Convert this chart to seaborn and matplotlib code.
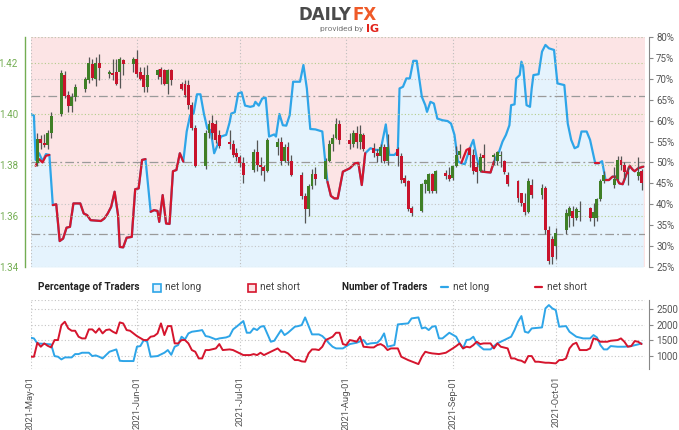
import pandas as pd
import numpy as np
import matplotlib
matplotlib.use("Agg")
import matplotlib.pyplot as plt
import matplotlib.dates as mdates
import matplotlib.ticker as mticker
from matplotlib.patches import Rectangle
from matplotlib.lines import Line2D
import seaborn as sns

sns.set_style("white")
plt.rcParams["font.family"] = ["Roboto", "DejaVu Sans"]

# ---------------- price candles (weekdays 2021-05-03 .. 2021-10-26) ----------------
candle_dates = pd.bdate_range("2021-05-03", "2021-10-26")
candle_open = [
    1.3808, 1.3900, 1.3886, 1.3878, 1.3925, 1.4000, 1.4150, 1.4072, 1.4030, 1.4065, 1.4098,
    1.4130, 1.4196, 1.4137, 1.4200, 1.4157, 1.4160, 1.4163, 1.4163, 1.4209, 1.4196,
    1.4215, 1.4163, 1.4150, 1.4104, 1.4150, 1.4176, 1.4170, 1.4117, 1.4170, 1.4117, 1.4117,
    1.4111, 1.4033, 1.3942, 1.3795, 1.3925, 1.3965, 1.3960, 1.3915, 1.3890, 1.3880, 1.3845,
    1.3830, 1.3805, 1.3780, 1.3850, 1.3800, 1.3790, 1.3775, 1.3870, 1.3890, 1.3815, 1.3870,
    1.3815, 1.3760, 1.3676, 1.3625, 1.3715, 1.3765, 1.3745, 1.3815, 1.3880, 1.3905, 1.3960,
    1.3895, 1.3880, 1.3925, 1.3890, 1.3918, 1.3865, 1.3845, 1.3835, 1.3870, 1.3815, 1.3860,
    1.3835, 1.3750, 1.3735, 1.3630, 1.3620, 1.3725, 1.3697, 1.3762, 1.3697, 1.3768, 1.3760,
    1.3750, 1.3795, 1.3840, 1.3860, 1.3840, 1.3790, 1.3775, 1.3840, 1.3830, 1.3815, 1.3835,
    1.3815, 1.3760, 1.3735, 1.3690, 1.3650, 1.3615, 1.3720, 1.3680, 1.3710, 1.3545, 1.3510,
    1.3482, 1.3545, 1.3600, 1.3620, 1.3590, 1.3615, 1.3630, 1.3590, 1.3590, 1.3665, 1.3735,
    1.3720, 1.3745, 1.3820, 1.3800, 1.3770, 1.3755, 1.3775,
]
candle_high = [
    1.3925, 1.3915, 1.3920, 1.3935, 1.4005, 1.4170, 1.4166, 1.4090, 1.4080, 1.4115, 1.4145,
    1.4222, 1.4215, 1.4222, 1.4235, 1.4170, 1.4215, 1.4215, 1.4222, 1.4215, 1.4222,
    1.4248, 1.4183, 1.4183, 1.4189, 1.4176, 1.4183, 1.4176, 1.4176, 1.4176, 1.4124, 1.4130,
    1.4130, 1.4046, 1.3955, 1.3935, 1.3975, 1.3995, 1.3975, 1.3935, 1.3935, 1.3895, 1.3865,
    1.3840, 1.3830, 1.3860, 1.3895, 1.3830, 1.3800, 1.3905, 1.3905, 1.3910, 1.3880, 1.3890,
    1.3840, 1.3770, 1.3690, 1.3725, 1.3785, 1.3790, 1.3825, 1.3895, 1.3920, 1.3983, 1.3975,
    1.3925, 1.3935, 1.3951, 1.3955, 1.3925, 1.3885, 1.3860, 1.3880, 1.3880, 1.3920, 1.3870,
    1.3845, 1.3760, 1.3740, 1.3640, 1.3730, 1.3745, 1.3768, 1.3768, 1.3780, 1.3780, 1.3790,
    1.3800, 1.3875, 1.3880, 1.3865, 1.3860, 1.3810, 1.3845, 1.3880, 1.3845, 1.3855, 1.3855,
    1.3820, 1.3770, 1.3740, 1.3690, 1.3690, 1.3750, 1.3745, 1.3725, 1.3718, 1.3560, 1.3520,
    1.3553, 1.3625, 1.3640, 1.3640, 1.3635, 1.3660, 1.3635, 1.3650, 1.3670, 1.3745, 1.3775,
    1.3790, 1.3835, 1.3835, 1.3810, 1.3790, 1.3830, 1.3785,
]
candle_low = [
    1.3795, 1.3860, 1.3868, 1.3860, 1.3905, 1.3990, 1.4060, 1.4005, 1.4005, 1.4050, 1.4085,
    1.4120, 1.4130, 1.4110, 1.4130, 1.4140, 1.4130, 1.4111, 1.4100, 1.4150, 1.4163,
    1.4143, 1.4130, 1.4085, 1.4085, 1.4137, 1.4117, 1.4111, 1.4078, 1.4111, 1.4091, 1.4065,
    1.4020, 1.3936, 1.3792, 1.3782, 1.3905, 1.3900, 1.3885, 1.3865, 1.3860, 1.3830, 1.3815,
    1.3790, 1.3729, 1.3770, 1.3775, 1.3760, 1.3735, 1.3770, 1.3840, 1.3800, 1.3810, 1.3800,
    1.3755, 1.3665, 1.3573, 1.3600, 1.3705, 1.3720, 1.3740, 1.3810, 1.3855, 1.3900, 1.3880,
    1.3860, 1.3870, 1.3865, 1.3860, 1.3855, 1.3830, 1.3810, 1.3810, 1.3805, 1.3800, 1.3795,
    1.3730, 1.3715, 1.3620, 1.3600, 1.3615, 1.3690, 1.3690, 1.3690, 1.3690, 1.3745, 1.3735,
    1.3740, 1.3790, 1.3825, 1.3790, 1.3765, 1.3730, 1.3770, 1.3775, 1.3800, 1.3800, 1.3790,
    1.3765, 1.3715, 1.3655, 1.3640, 1.3605, 1.3610, 1.3670, 1.3665, 1.3530, 1.3410, 1.3412,
    1.3430, 1.3530, 1.3555, 1.3560, 1.3585, 1.3580, 1.3580, 1.3560, 1.3580, 1.3660, 1.3730,
    1.3710, 1.3740, 1.3780, 1.3745, 1.3720, 1.3740, 1.3703,
]
candle_close = [
    1.3900, 1.3886, 1.3878, 1.3925, 1.3990, 1.4160, 1.4068, 1.4030, 1.4065, 1.4105, 1.4135,
    1.4200, 1.4140, 1.4200, 1.4180, 1.4163, 1.4150, 1.4117, 1.4215, 1.4196, 1.4215,
    1.4157, 1.4137, 1.4104, 1.4150, 1.4170, 1.4143, 1.4117, 1.4170, 1.4130, 1.4098, 1.4072,
    1.4033, 1.3942, 1.3795, 1.3925, 1.3960, 1.3925, 1.3895, 1.3875, 1.3880, 1.3840, 1.3830,
    1.3805, 1.3760, 1.3850, 1.3800, 1.3790, 1.3775, 1.3895, 1.3890, 1.3815, 1.3870, 1.3815,
    1.3760, 1.3676, 1.3625, 1.3715, 1.3765, 1.3745, 1.3815, 1.3880, 1.3905, 1.3960, 1.3895,
    1.3880, 1.3925, 1.3890, 1.3920, 1.3860, 1.3845, 1.3835, 1.3870, 1.3815, 1.3870, 1.3835,
    1.3740, 1.3730, 1.3625, 1.3610, 1.3725, 1.3740, 1.3762, 1.3697, 1.3775, 1.3755, 1.3745,
    1.3795, 1.3840, 1.3855, 1.3840, 1.3775, 1.3770, 1.3830, 1.3828, 1.3838, 1.3850, 1.3840,
    1.3770, 1.3725, 1.3670, 1.3650, 1.3615, 1.3735, 1.3680, 1.3710, 1.3545, 1.3425, 1.3440,
    1.3534, 1.3610, 1.3630, 1.3590, 1.3625, 1.3620, 1.3590, 1.3615, 1.3665, 1.3735, 1.3760,
    1.3745, 1.3820, 1.3800, 1.3770, 1.3762, 1.3770, 1.3729,
]

# ---------------- percentage of traders (right axis) ----------------
long_pct_time = [
    "2021-05-01 00:00", "2021-05-02 00:00", "2021-05-02 12:00", "2021-05-03 12:00", "2021-05-04 12:00",
    "2021-05-05 12:00", "2021-05-06 12:00", "2021-05-07 12:00", "2021-05-08 12:00", "2021-05-09 12:00",
    "2021-05-10 12:00", "2021-05-11 12:00", "2021-05-12 12:00", "2021-05-13 12:00", "2021-05-15 12:00",
    "2021-05-16 12:00", "2021-05-17 12:00", "2021-05-18 12:00", "2021-05-21 12:00", "2021-05-22 12:00",
    "2021-05-23 12:00", "2021-05-24 12:00", "2021-05-25 12:00", "2021-05-26 12:00", "2021-05-27 00:00",
    "2021-05-28 00:00", "2021-05-29 00:00", "2021-05-30 12:00", "2021-05-31 12:00", "2021-06-01 12:00",
    "2021-06-02 12:00", "2021-06-03 12:00", "2021-06-05 00:00", "2021-06-06 00:00", "2021-06-07 00:00",
    "2021-06-07 12:00", "2021-06-08 12:00", "2021-06-09 12:00", "2021-06-10 12:00", "2021-06-11 12:00",
    "2021-06-12 12:00", "2021-06-13 12:00", "2021-06-14 12:00", "2021-06-15 12:00", "2021-06-16 12:00",
    "2021-06-17 12:00", "2021-06-18 12:00", "2021-06-19 12:00", "2021-06-20 12:00", "2021-06-21 12:00",
    "2021-06-22 12:00", "2021-06-23 12:00", "2021-06-24 12:00", "2021-06-25 12:00", "2021-06-27 00:00",
    "2021-06-28 00:00", "2021-06-28 12:00", "2021-06-29 12:00", "2021-06-30 12:00", "2021-07-01 12:00",
    "2021-07-02 12:00", "2021-07-04 00:00", "2021-07-05 00:00", "2021-07-05 12:00", "2021-07-06 12:00",
    "2021-07-07 12:00", "2021-07-08 12:00", "2021-07-09 12:00", "2021-07-11 00:00", "2021-07-11 12:00",
    "2021-07-12 12:00", "2021-07-13 12:00", "2021-07-14 12:00", "2021-07-15 12:00", "2021-07-16 12:00",
    "2021-07-18 12:00", "2021-07-19 12:00", "2021-07-20 12:00", "2021-07-21 12:00", "2021-07-23 00:00",
    "2021-07-25 00:00", "2021-07-26 00:00", "2021-07-26 12:00", "2021-07-27 12:00", "2021-07-28 12:00",
    "2021-07-29 12:00", "2021-07-31 00:00", "2021-08-01 00:00", "2021-08-02 00:00", "2021-08-03 12:00",
    "2021-08-04 12:00", "2021-08-05 12:00", "2021-08-06 12:00", "2021-08-08 00:00", "2021-08-09 12:00",
    "2021-08-11 00:00", "2021-08-12 12:00", "2021-08-13 12:00", "2021-08-15 00:00", "2021-08-16 00:00",
    "2021-08-16 12:00", "2021-08-17 12:00", "2021-08-18 12:00", "2021-08-19 12:00", "2021-08-20 12:00",
    "2021-08-21 12:00", "2021-08-23 00:00", "2021-08-24 00:00", "2021-08-24 12:00", "2021-08-25 12:00",
    "2021-08-26 12:00", "2021-08-27 12:00", "2021-08-29 00:00", "2021-08-30 12:00", "2021-08-31 12:00",
    "2021-09-01 12:00", "2021-09-02 12:00", "2021-09-03 12:00", "2021-09-04 12:00", "2021-09-06 00:00",
    "2021-09-07 00:00", "2021-09-08 00:00", "2021-09-09 00:00", "2021-09-09 12:00", "2021-09-12 00:00",
    "2021-09-13 00:00", "2021-09-14 12:00", "2021-09-15 12:00", "2021-09-16 12:00", "2021-09-17 12:00",
    "2021-09-18 00:00", "2021-09-19 00:00", "2021-09-19 12:00", "2021-09-20 12:00", "2021-09-21 00:00",
    "2021-09-21 12:00", "2021-09-22 12:00", "2021-09-23 12:00", "2021-09-24 00:00", "2021-09-24 12:00",
    "2021-09-26 00:00", "2021-09-27 00:00", "2021-09-28 00:00", "2021-09-29 00:00", "2021-09-30 12:00",
    "2021-10-01 12:00", "2021-10-03 12:00", "2021-10-04 12:00", "2021-10-05 12:00", "2021-10-06 12:00",
    "2021-10-07 12:00", "2021-10-08 12:00", "2021-10-10 00:00", "2021-10-11 00:00", "2021-10-12 12:00",
    "2021-10-13 12:00", "2021-10-14 12:00", "2021-10-15 12:00", "2021-10-16 12:00", "2021-10-17 12:00",
    "2021-10-18 12:00", "2021-10-19 12:00", "2021-10-20 12:00", "2021-10-21 12:00", "2021-10-22 12:00",
    "2021-10-23 12:00", "2021-10-24 00:00", "2021-10-25 00:00", "2021-10-26 12:00",
]
long_pct = [
    61.6, 61.2, 50.6, 52.2, 50.3, 52.0, 51.8, 39.8, 40.0, 31.2,
    31.8, 34.4, 34.6, 40.2, 40.2, 37.8, 37.4, 36.2, 36.0, 36.6,
    37.8, 39.4, 43.0, 37.4, 29.8, 29.7, 32.0, 32.2, 43.6, 43.8,
    50.6, 50.8, 38.2, 38.6, 38.4, 35.8, 42.2, 35.4, 35.3, 47.9,
    48.2, 52.2, 50.2, 57.4, 61.3, 61.7, 66.3, 66.3, 61.7, 58.1,
    57.7, 52.2, 54.2, 56.2, 56.6, 59.6, 61.7, 62.0, 66.5, 66.8,
    63.6, 63.3, 63.5, 64.5, 63.6, 65.3, 65.5, 56.2, 56.7, 56.2,
    61.6, 58.9, 58.8, 61.3, 69.3, 69.3, 73.3, 67.7, 58.0, 57.9,
    57.4, 49.0, 45.4, 42.0, 41.4, 41.4, 47.8, 48.2, 48.6, 49.8,
    49.9, 44.6, 52.2, 53.4, 53.0, 53.0, 59.1, 51.8, 51.8, 52.6,
    67.7, 68.1, 70.1, 70.1, 74.3, 74.3, 65.7, 63.7, 62.1, 64.5,
    64.1, 60.5, 60.1, 59.9, 59.3, 56.6, 50.3, 49.8, 49.6, 53.4,
    55.4, 51.0, 48.6, 47.8, 47.6, 50.2, 52.6, 55.0, 56.6, 58.9,
    63.7, 63.9, 70.1, 70.9, 74.1, 72.9, 63.7, 63.3, 67.7, 70.9,
    71.1, 76.5, 78.1, 77.3, 76.9, 68.9, 68.5, 59.3, 55.4, 53.4,
    53.8, 57.4, 57.4, 55.4, 49.8, 49.8, 50.3, 45.8, 45.8, 46.6,
    46.6, 45.0, 44.8, 47.0, 49.2, 48.2, 47.9, 48.6, 49.0,
]
# None marks a break in the net-short line
short_pct_time = [
    "2021-05-02 12:00", "2021-05-03 12:00", "2021-05-04 12:00", "2021-05-05 12:00", "2021-05-06 12:00", None,
    "2021-05-07 12:00", "2021-05-08 12:00", "2021-05-09 12:00", "2021-05-10 12:00", "2021-05-11 12:00",
    "2021-05-12 12:00", "2021-05-13 12:00", "2021-05-15 12:00", "2021-05-16 12:00", "2021-05-17 12:00",
    "2021-05-18 12:00", "2021-05-21 12:00", "2021-05-22 12:00", "2021-05-23 12:00", "2021-05-24 12:00",
    "2021-05-25 12:00", "2021-05-26 12:00", "2021-05-27 00:00", "2021-05-28 00:00", "2021-05-29 00:00",
    "2021-05-30 12:00", "2021-05-31 12:00", "2021-06-01 12:00", "2021-06-02 12:00", "2021-06-03 12:00", None,
    "2021-06-05 00:00", "2021-06-06 00:00", "2021-06-07 00:00", "2021-06-07 12:00", "2021-06-08 12:00",
    "2021-06-09 12:00", "2021-06-10 12:00", "2021-06-11 12:00", "2021-06-12 12:00", "2021-06-13 12:00",
    "2021-06-14 12:00", None,
    "2021-07-26 12:00", "2021-07-27 12:00", "2021-07-28 12:00", "2021-07-29 12:00", "2021-07-31 00:00",
    "2021-08-01 00:00", "2021-08-02 00:00", "2021-08-03 12:00", "2021-08-04 12:00", "2021-08-05 12:00",
    "2021-08-06 12:00", None,
    "2021-09-03 12:00", "2021-09-05 00:00", "2021-09-06 00:00", None,
    "2021-09-09 00:00", "2021-09-09 12:00", "2021-09-12 00:00", "2021-09-13 00:00", None,
    "2021-10-12 12:00", "2021-10-13 12:00", None,
    "2021-10-15 12:00", "2021-10-16 12:00", "2021-10-17 12:00", "2021-10-18 12:00", "2021-10-19 12:00",
    "2021-10-20 12:00", "2021-10-21 12:00", "2021-10-22 12:00", "2021-10-23 12:00", "2021-10-24 00:00",
    "2021-10-25 00:00", "2021-10-26 12:00",
]
short_pct = [
    49.2, 50.8, 50.0, 51.6, 51.8, None,
    39.8, 40.0, 31.2, 31.8, 34.4, 34.6, 40.2, 40.2, 37.8, 37.4,
    36.2, 36.0, 36.6, 37.8, 39.4, 43.0, 37.4, 29.8, 29.7, 32.0,
    32.2, 43.6, 43.8, 50.6, 50.8, None,
    38.2, 38.6, 38.4, 35.8, 42.2, 35.4, 35.3, 47.9, 48.2, 52.2, 50.2, None,
    45.4, 42.0, 41.4, 41.4, 47.8, 48.2, 48.6, 49.8, 49.9, 44.6, 52.2, None,
    49.9, 53.0, 53.4, None,
    48.6, 47.8, 47.6, 50.2, None,
    49.8, 49.8, None,
    45.8, 45.8, 46.6, 46.6, 45.0, 44.8, 47.0, 49.2, 48.2, 47.9, 48.6, 49.0,
]

# ---------------- number of traders (bottom panel) ----------------
long_count_date = [
    "2021-05-01", "2021-05-02", "2021-05-03", "2021-05-07", "2021-05-08", "2021-05-09", "2021-05-10",
    "2021-05-11", "2021-05-13", "2021-05-14", "2021-05-15", "2021-05-16", "2021-05-18", "2021-05-19",
    "2021-05-20", "2021-05-21", "2021-05-22", "2021-05-23", "2021-05-24", "2021-05-26", "2021-05-27",
    "2021-05-28", "2021-05-31", "2021-06-01", "2021-06-02", "2021-06-03", "2021-06-04", "2021-06-05",
    "2021-06-07", "2021-06-09", "2021-06-10", "2021-06-11", "2021-06-12", "2021-06-13", "2021-06-14",
    "2021-06-15", "2021-06-16", "2021-06-17", "2021-06-19", "2021-06-20", "2021-06-21", "2021-06-22",
    "2021-06-24", "2021-06-25", "2021-06-27", "2021-06-28", "2021-06-29", "2021-06-30", "2021-07-02",
    "2021-07-03", "2021-07-04", "2021-07-05", "2021-07-06", "2021-07-07", "2021-07-08", "2021-07-10",
    "2021-07-11", "2021-07-13", "2021-07-14", "2021-07-15", "2021-07-17", "2021-07-18", "2021-07-19",
    "2021-07-20", "2021-07-22", "2021-07-24", "2021-07-25", "2021-07-26", "2021-07-27", "2021-07-28",
    "2021-07-29", "2021-07-31", "2021-08-02", "2021-08-04", "2021-08-06", "2021-08-07", "2021-08-08",
    "2021-08-10", "2021-08-11", "2021-08-12", "2021-08-13", "2021-08-15", "2021-08-16", "2021-08-19",
    "2021-08-20", "2021-08-22", "2021-08-23", "2021-08-24", "2021-08-25", "2021-08-26", "2021-08-27",
    "2021-08-28", "2021-08-29", "2021-08-31", "2021-09-02", "2021-09-03", "2021-09-04", "2021-09-05",
    "2021-09-06", "2021-09-07", "2021-09-08", "2021-09-09", "2021-09-10", "2021-09-12", "2021-09-13",
    "2021-09-14", "2021-09-16", "2021-09-18", "2021-09-19", "2021-09-20", "2021-09-21", "2021-09-22",
    "2021-09-23", "2021-09-24", "2021-09-27", "2021-09-28", "2021-09-29", "2021-09-30", "2021-10-01",
    "2021-10-02", "2021-10-04", "2021-10-05", "2021-10-07", "2021-10-09", "2021-10-11", "2021-10-12",
    "2021-10-13", "2021-10-14", "2021-10-15", "2021-10-16", "2021-10-17", "2021-10-19", "2021-10-21",
    "2021-10-23", "2021-10-25", "2021-10-26",
]
long_count = [
    1590, 1567, 1407, 1375, 1000, 979, 893, 957, 957, 1064, 1064, 1107, 1107, 1000,
    1021, 979, 925, 1032, 1139, 1214, 850, 840, 840, 1300, 1321, 1514, 1460, 979,
    1000, 1107, 1193, 1040, 1300, 1353, 1621, 1535, 1728, 1781, 1813, 1835, 1642, 1621,
    1535, 1567, 1599, 1642, 1856, 1942, 2124, 1749, 1749, 1888, 1835, 1942, 1963, 1460,
    1492, 1835, 1674, 1749, 1942, 1963, 1995, 2241, 1696, 1696, 1642, 1535, 1407, 1300,
    1246, 1246, 1385, 1428, 1514, 1375, 1407, 1428, 1535, 1728, 1300, 1353, 2017, 2049,
    2209, 2241, 1888, 1920, 1835, 1942, 1963, 1567, 1567, 1749, 1621, 1407, 1246, 1514,
    1535, 1621, 1407, 1300, 1214, 1214, 1321, 1407, 1514, 1621, 1835, 2102, 2284, 1781,
    1749, 1888, 1920, 2530, 2637, 2530, 2477, 1942, 1963, 1781, 1621, 1567, 1567, 1674,
    1599, 1353, 1214, 1214, 1321, 1300, 1300, 1321, 1375, 1407,
]
short_count_date = [
    "2021-05-01", "2021-05-02", "2021-05-03", "2021-05-04", "2021-05-05", "2021-05-06", "2021-05-07",
    "2021-05-08", "2021-05-09", "2021-05-10", "2021-05-11", "2021-05-12", "2021-05-13", "2021-05-14",
    "2021-05-15", "2021-05-16", "2021-05-17", "2021-05-18", "2021-05-19", "2021-05-20", "2021-05-21",
    "2021-05-22", "2021-05-23", "2021-05-24", "2021-05-25", "2021-05-26", "2021-05-27", "2021-05-28",
    "2021-05-29", "2021-05-30", "2021-05-31", "2021-06-01", "2021-06-03", "2021-06-04", "2021-06-05",
    "2021-06-06", "2021-06-07", "2021-06-08", "2021-06-09", "2021-06-10", "2021-06-11", "2021-06-12",
    "2021-06-13", "2021-06-14", "2021-06-15", "2021-06-16", "2021-06-17", "2021-06-18", "2021-06-19",
    "2021-06-20", "2021-06-21", "2021-06-22", "2021-06-24", "2021-06-25", "2021-06-26", "2021-06-28",
    "2021-06-29", "2021-07-01", "2021-07-02", "2021-07-04", "2021-07-05", "2021-07-06", "2021-07-07",
    "2021-07-08", "2021-07-10", "2021-07-11", "2021-07-12", "2021-07-13", "2021-07-14", "2021-07-15",
    "2021-07-17", "2021-07-18", "2021-07-19", "2021-07-20", "2021-07-21", "2021-07-22", "2021-07-23",
    "2021-07-24", "2021-07-25", "2021-07-26", "2021-07-27", "2021-07-28", "2021-07-29", "2021-07-30",
    "2021-07-31", "2021-08-01", "2021-08-02", "2021-08-03", "2021-08-04", "2021-08-05", "2021-08-06",
    "2021-08-08", "2021-08-09", "2021-08-10", "2021-08-11", "2021-08-12", "2021-08-13", "2021-08-14",
    "2021-08-16", "2021-08-17", "2021-08-18", "2021-08-19", "2021-08-21", "2021-08-22", "2021-08-23",
    "2021-08-24", "2021-08-25", "2021-08-26", "2021-08-28", "2021-08-30", "2021-09-01", "2021-09-02",
    "2021-09-03", "2021-09-04", "2021-09-05", "2021-09-06", "2021-09-07", "2021-09-08", "2021-09-09",
    "2021-09-10", "2021-09-12", "2021-09-13", "2021-09-14", "2021-09-15", "2021-09-17", "2021-09-18",
    "2021-09-19", "2021-09-20", "2021-09-21", "2021-09-22", "2021-09-23", "2021-09-24", "2021-09-25",
    "2021-09-26", "2021-09-28", "2021-09-29", "2021-10-01", "2021-10-02", "2021-10-03", "2021-10-04",
    "2021-10-05", "2021-10-06", "2021-10-07", "2021-10-08", "2021-10-10", "2021-10-11", "2021-10-12",
    "2021-10-13", "2021-10-14", "2021-10-16", "2021-10-17", "2021-10-19", "2021-10-20", "2021-10-21",
    "2021-10-22", "2021-10-23", "2021-10-24", "2021-10-25", "2021-10-26",
]
short_count = [
    979, 979, 1428, 1300, 1407, 1330, 1278, 1514, 1514, 1995, 2102, 1888, 1813, 1813,
    1621, 1567, 1567, 1856, 1856, 1749, 1888, 1728, 1835, 1856, 1781, 1728, 2081, 2049,
    1835, 1813, 1728, 1642, 1514, 1514, 1621, 1642, 1728, 2049, 1674, 1963, 1963, 1407,
    1407, 1514, 1514, 1407, 1193, 1139, 925, 925, 1193, 1193, 1246, 1385, 1193, 1214,
    1193, 1086, 1032, 1032, 1064, 1032, 1107, 1032, 1139, 1193, 1246, 1139, 1139, 1086,
    872, 872, 830, 818, 1086, 1214, 1214, 1193, 1300, 1514, 1567, 1621, 1749, 1749,
    1385, 1353, 1514, 1492, 1460, 1621, 1300, 1278, 1278, 1353, 1385, 1321, 1193, 1246,
    1246, 979, 925, 872, 786, 743, 979, 1139, 1107, 1086, 1064, 1107, 1246, 1321,
    1407, 1246, 1300, 1278, 1353, 1460, 1385, 1407, 1407, 1246, 1407, 1300, 1246, 925,
    925, 872, 850, 786, 1000, 1000, 818, 818, 786, 786, 765, 872, 872, 925,
    1246, 1380, 1428, 1193, 1193, 1246, 1567, 1535, 1460, 1460, 1492, 1514, 1567, 1460,
    1300, 1321, 1481, 1460, 1385,
]

pct_ticks = [25, 30, 35, 40, 45, 50, 55, 60, 65, 70, 75, 80]
price_ticks = [1.34, 1.36, 1.38, 1.40, 1.42]
count_ticks = [1000, 1500, 2000, 2500]
pct_dotted_levels = [30, 40, 60, 70, 80]
pct_dashdot_levels = [33, 50, 66]

# ---------------- styling ----------------
BLUE = "#2ea5e8"
RED = "#d5152d"
PINK_BG = "#fce4e5"
BLUE_FILL = "#e5f3fd"
GREEN_C = "#3f7f26"
RED_C = "#c8132c"
WICK = "#555555"
AXIS_GREEN = "#73ad52"
GREY_TXT = "#555555"

W, H = 679, 430
fig = plt.figure(figsize=(W / 100, H / 100), dpi=100)
fig.patch.set_facecolor("white")


def rect(x0, y0, x1, y1):
    return [x0 / W, 1 - y1 / H, (x1 - x0) / W, (y1 - y0) / H]


x_start = pd.Timestamp("2021-05-01")
x_end = pd.Timestamp("2021-10-27")

ax_pct = fig.add_axes(rect(30.5, 37, 645, 267))
ax_px = fig.add_axes(rect(30.5, 37, 645, 267), sharex=ax_pct)
ax_n = fig.add_axes(rect(30.5, 300, 645, 369), sharex=ax_pct)

# ---- percentage panel ----
lt = pd.to_datetime(long_pct_time)
ax_pct.set_facecolor(PINK_BG)
ax_pct.set_ylim(25, 80)
ax_pct.fill_between(lt, long_pct, 25, color=BLUE_FILL, lw=0, zorder=1)

months = pd.date_range("2021-05-01", "2021-10-01", freq="MS")
for m in months:
    ax_pct.axvline(m, color="#bdbdbd", lw=0.8, ls=(0, (1, 2)), zorder=2)
for lv in pct_dotted_levels:
    ax_pct.axhline(lv, color="#c4c4c4", lw=0.8, ls=(0, (1, 2)), zorder=2)
for lv in pct_dashdot_levels:
    ax_pct.axhline(lv, color="#9a9a9a", lw=0.9, ls=(0, (7, 2.5, 1.5, 2.5)), zorder=2)

sns.lineplot(x=lt, y=long_pct, ax=ax_pct, color=BLUE, lw=1.6, estimator=None, zorder=4)
short_df = pd.DataFrame({"time": pd.to_datetime(short_pct_time), "pct": pd.array(short_pct, dtype="Float64")})
short_df["seg"] = short_df["pct"].isna().cumsum()
short_df = short_df.dropna().astype({"pct": float})
sns.lineplot(data=short_df, x="time", y="pct", units="seg", estimator=None, ax=ax_pct,
             color=RED, lw=1.6, zorder=5)

ax_pct.yaxis.tick_right()
ax_pct.set_yticks(pct_ticks)
ax_pct.yaxis.set_major_formatter(mticker.FuncFormatter(lambda v, p: f"{v:.0f}%"))
ax_pct.tick_params(axis="y", colors="#888888", labelcolor=GREY_TXT, labelsize=7, length=3, width=0.8, pad=2)
ax_pct.tick_params(axis="x", bottom=False, labelbottom=False)
for s in ["top", "bottom", "left"]:
    ax_pct.spines[s].set_visible(False)
ax_pct.spines["right"].set_position(("outward", 3))
ax_pct.spines["right"].set_color("#888888")
ax_pct.spines["right"].set_linewidth(0.8)
ax_pct.set_xlabel("")
ax_pct.set_ylabel("")

# ---- price panel (candles) ----
ax_px.set_facecolor("none")
ax_px.set_ylim(1.34, 1.43)
for lv in price_ticks:
    ax_px.axhline(lv, color="#b3cc8c", lw=0.8, ls=(0, (1, 2)), zorder=1)
ax_px.axhline(1.43, color="#c9c9b0", lw=0.8, ls=(0, (1, 2)), zorder=1)

o = np.array(candle_open)
c = np.array(candle_close)
body_col = [GREEN_C if cc >= oo else RED_C for oo, cc in zip(o, c)]
ax_px.vlines(candle_dates, candle_low, candle_high, color=WICK, lw=0.9, zorder=3)
ax_px.bar(candle_dates, np.where(np.abs(c - o) < 0.0003, 0.0003, c - o), bottom=o, width=0.85,
          color=body_col, lw=0, zorder=4)

ax_px.set_yticks(price_ticks)
ax_px.yaxis.set_major_formatter(mticker.FormatStrFormatter("%.2f"))
ax_px.tick_params(axis="y", colors=AXIS_GREEN, labelcolor=AXIS_GREEN, labelsize=7, length=3, width=0.8, pad=2)
ax_px.tick_params(axis="x", bottom=False, labelbottom=False)
for s in ["top", "bottom", "right"]:
    ax_px.spines[s].set_visible(False)
ax_px.spines["left"].set_position(("outward", 4))
ax_px.spines["left"].set_color(AXIS_GREEN)
ax_px.spines["left"].set_linewidth(1.0)

# ---- number of traders panel ----
ax_n.set_facecolor("white")
ax_n.set_ylim(585, 2800)
for m in months:
    ax_n.axvline(m, color="#c4c4c4", lw=0.8, ls=(0, (1, 2)), zorder=1)
for lv in count_ticks + [2800, 585]:
    ax_n.axhline(lv, color="#c4c4c4", lw=0.8, ls=(0, (1, 2)), zorder=1)
sns.lineplot(x=pd.to_datetime(long_count_date), y=long_count, ax=ax_n, color=BLUE, lw=1.4,
             estimator=None, zorder=3)
sns.lineplot(x=pd.to_datetime(short_count_date), y=short_count, ax=ax_n, color=RED, lw=1.4,
             estimator=None, zorder=4)
ax_n.yaxis.tick_right()
ax_n.set_yticks(count_ticks)
ax_n.tick_params(axis="y", colors="#888888", labelcolor=GREY_TXT, labelsize=7, length=3, width=0.8, pad=2)
for s in ["top", "bottom", "left"]:
    ax_n.spines[s].set_visible(False)
ax_n.spines["right"].set_position(("outward", 3))
ax_n.spines["right"].set_color("#888888")
ax_n.spines["right"].set_linewidth(0.8)
ax_n.set_xlabel("")
ax_n.set_ylabel("")

ax_n.set_xlim(x_start, x_end)
ax_n.xaxis.set_major_locator(mdates.MonthLocator())
ax_n.xaxis.set_major_formatter(mdates.DateFormatter("%Y-%b-%d"))
ax_n.tick_params(axis="x", colors="#999999", labelcolor=GREY_TXT, labelsize=6.8, length=3,
                 width=0.8, pad=2, labelrotation=90)

# ---- legend row ----
yl = 1 - 287 / H
bold_font = ["Liberation Sans Narrow", "Roboto", "DejaVu Sans"]
fig.text(38 / W, yl, "Percentage of Traders", fontsize=7.2, fontweight="bold", family=bold_font,
         color="#222222", va="center", ha="left")
fig.text(342 / W, yl, "Number of Traders", fontsize=7.2, fontweight="bold", family=bold_font,
         color="#222222", va="center", ha="left")
fig.add_artist(Rectangle((153 / W, 1 - 291.5 / H), 8 / W, 8 / H, transform=fig.transFigure,
                         facecolor=BLUE_FILL, edgecolor=BLUE, lw=1.2))
fig.add_artist(Rectangle((247.5 / W, 1 - 291.5 / H), 8 / W, 8 / H, transform=fig.transFigure,
                         facecolor=PINK_BG, edgecolor=RED, lw=1.2))
fig.add_artist(Line2D([441 / W, 448 / W], [yl, yl], transform=fig.transFigure, color=BLUE, lw=1.6))
fig.add_artist(Line2D([535 / W, 542 / W], [yl, yl], transform=fig.transFigure, color=RED, lw=1.6))
for x0, label in [(165, "net long"), (260, "net short"), (453, "net long"), (547, "net short")]:
    fig.text(x0 / W, yl, label, fontsize=7.2, family=bold_font, color="#444444", va="center", ha="left")

# ---- header logo ----
fig.text(351 / W, 1 - 15 / H, "DAILY", fontsize=12, fontweight="bold", family="DejaVu Sans",
         color="#4a4a4a", ha="right", va="center")
fig.text(353 / W, 1 - 15 / H, "FX", fontsize=12, fontweight="bold", family="DejaVu Sans",
         color="#ef5a28", ha="left", va="center")
fig.text(363 / W, 1 - 29 / H, "provided by", fontsize=6, family="Roboto", color="#777777",
         ha="right", va="center")
fig.text(366 / W, 1 - 29 / H, "IG", fontsize=8, fontweight="bold", family="DejaVu Sans",
         color="#e2231a", ha="left", va="center")

fig.savefig("out.png", dpi=100, facecolor="white")
